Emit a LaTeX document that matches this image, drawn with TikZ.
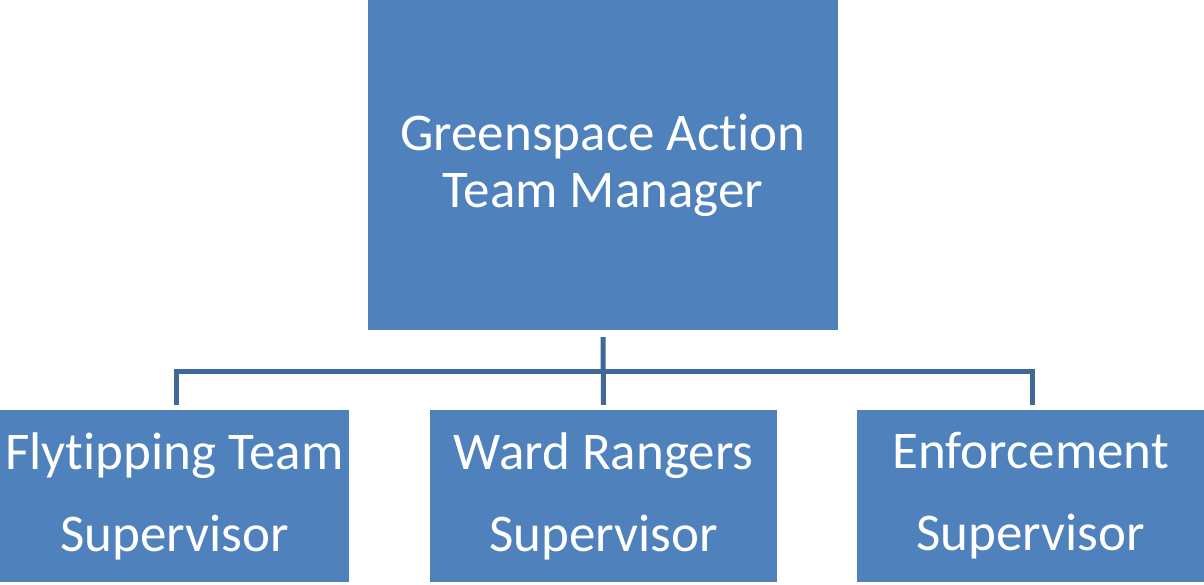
\documentclass[tikz,border=0pt]{standalone}
\usepackage{fontspec}
\setmainfont{Carlito}[Ligatures=NoCommon]
\definecolor{boxblue}{HTML}{4F81BD}
\definecolor{linkblue}{HTML}{3F6797}
\begin{document}
\begin{tikzpicture}[x=1pt,y=-1pt,
  orgbox/.style={fill=boxblue, draw=none, inner sep=0pt, text=white, align=center, font=\fontsize{53}{57}\selectfont},
  lowbox/.style={orgbox, minimum height=172pt, font=\fontsize{53}{82}\selectfont},
  conn/.style={draw=linkblue, line width=5pt, line cap=butt, line join=miter}]
\useasboundingbox (0,0) rectangle (1204,585);
\node[orgbox, minimum width=470pt, minimum height=330pt] (top) at (603,165) {Greenspace Action\\Team Manager};
\node[lowbox, minimum width=349pt] (b1) at (174.5,496) {Flytipping Team\\Supervisor};
\node[lowbox, minimum width=347pt] (b2) at (603.5,496) {Ward Rangers\\Supervisor};
\node[lowbox, minimum width=347pt] (b3) at (1030.5,496) {Enforcement\\Supervisor};
\coordinate (j) at (603,371);
\draw[conn] ([yshift=-7pt]top.south) -- ([yshift=5pt]b2.north);
\draw[conn] ([xshift=1.5pt,yshift=5pt]b1.north) -- ([xshift=1.5pt]b1.north |- j) -- ([xshift=1.5pt]b3.north |- j) -- ([xshift=1.5pt,yshift=5pt]b3.north);
\end{tikzpicture}
\end{document}
